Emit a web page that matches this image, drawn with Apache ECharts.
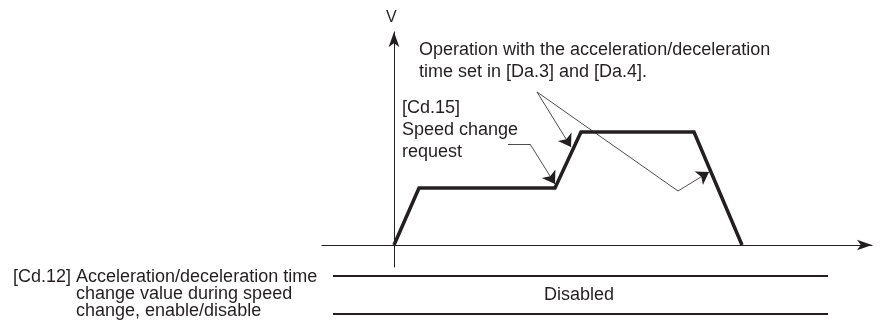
<!DOCTYPE html>
<html lang="en">
<head>
    <meta charset="UTF-8">
    <title>Speed change profile</title>
    <script src="https://cdn.jsdelivr.net/npm/echarts@6/dist/echarts.min.js"></script>
    <style>
        html, body { margin: 0; padding: 0; background: #fff; }
    </style>
</head>
<body>
    <div id="main" style="width: 880px;height:320px;"></div>
    <script type="text/javascript">
        // speed profile (time, speed)
        var profileTime = [0, 25, 161, 187, 300, 348];
        var profileSpeed = [0, 57, 57, 113, 113, 0];

        // annotation leader lines, same units (last point gets the arrow)
        var accelArrow = [[143, 153], [177, 98]];
        var decelArrow = [[143, 153], [284, 54], [315, 73]];
        var requestArrow = [[114, 101], [136, 101], [161, 61]];

        var opText = ['Operation with the acceleration/deceleration', 'time set in [Da.3] and [Da.4].'];
        var requestText = ['[Cd.15]', 'Speed change', 'request'];
        var cd12Text = ['[Cd.12] Acceleration/deceleration time', 'change value during speed', 'change, enable/disable'];
        var stateText = 'Disabled';

        var ink = '#231f20';
        var font = '"Liberation Sans", Arial, sans-serif';

        var myChart = echarts.init(document.getElementById('main'));

        var profile = profileTime.map(function (t, i) { return [t, profileSpeed[i]]; });

        // split each leader: plain segments, then the last one with an arrowhead
        var plainSegs = [];
        var arrowSegs = [];
        [accelArrow, decelArrow, requestArrow].forEach(function (pts) {
            for (var i = 0; i < pts.length - 1; i++) {
                var seg = { coords: [pts[i], pts[i + 1]] };
                if (i === pts.length - 2) {
                    arrowSegs.push(seg);
                } else {
                    plainSegs.push(seg);
                }
            }
        });

        var option = {
            backgroundColor: '#fff',
            animation: false,
            grid: { left: 322, right: 8, top: 32, bottom: 53 },
            xAxis: {
                type: 'value',
                min: -72,
                max: 478,
                splitLine: { show: false },
                axisTick: { show: false },
                axisLabel: { show: false },
                axisLine: {
                    onZero: true,
                    symbol: ['none', 'arrow'],
                    symbolSize: [8, 15],
                    lineStyle: { color: ink, width: 1 }
                }
            },
            yAxis: {
                type: 'value',
                min: -22,
                max: 213,
                splitLine: { show: false },
                axisTick: { show: false },
                axisLabel: { show: false },
                axisLine: {
                    onZero: true,
                    symbol: ['none', 'arrow'],
                    symbolSize: [8, 15],
                    lineStyle: { color: ink, width: 1 }
                }
            },
            series: [
                {
                    type: 'line',
                    data: profile,
                    symbol: 'none',
                    lineStyle: { color: ink, width: 3.5, join: 'miter' },
                    z: 3
                },
                {
                    type: 'lines',
                    coordinateSystem: 'cartesian2d',
                    symbol: 'none',
                    lineStyle: { color: ink, width: 0.8, opacity: 1 },
                    data: plainSegs,
                    z: 4
                },
                {
                    type: 'lines',
                    coordinateSystem: 'cartesian2d',
                    symbol: ['none', 'arrow'],
                    symbolSize: [6, 12],
                    lineStyle: { color: ink, width: 0.8, opacity: 1 },
                    data: arrowSegs,
                    z: 4
                }
            ],
            graphic: [
                {
                    type: 'text', left: 386, top: 10,
                    style: { text: 'V', font: '16px ' + font, fill: ink }
                },
                {
                    type: 'text', left: 419, top: 39,
                    style: { text: opText.join('\n'), font: '18px ' + font, lineHeight: 22, fill: ink }
                },
                {
                    type: 'text', left: 402, top: 97,
                    style: { text: requestText.join('\n'), font: '18px ' + font, lineHeight: 22, fill: ink }
                },
                {
                    type: 'text', x: 13, y: 277,
                    style: { text: cd12Text[0], font: '18px ' + font, fill: ink, verticalAlign: 'middle' }
                },
                {
                    type: 'text', x: 76, y: 294,
                    style: { text: cd12Text[1], font: '18px ' + font, fill: ink, verticalAlign: 'middle' }
                },
                {
                    type: 'text', x: 76, y: 311,
                    style: { text: cd12Text[2], font: '18px ' + font, fill: ink, verticalAlign: 'middle' }
                },
                {
                    type: 'text', x: 579, y: 295,
                    style: { text: stateText, font: '18px ' + font, fill: ink, align: 'center', verticalAlign: 'middle' }
                },
                {
                    type: 'line', shape: { x1: 333, y1: 276, x2: 828, y2: 276 },
                    style: { stroke: ink, lineWidth: 2 }
                },
                {
                    type: 'line', shape: { x1: 333, y1: 314, x2: 828, y2: 314 },
                    style: { stroke: ink, lineWidth: 2 }
                }
            ]
        };

        myChart.setOption(option);
    </script>
</body>
</html>
